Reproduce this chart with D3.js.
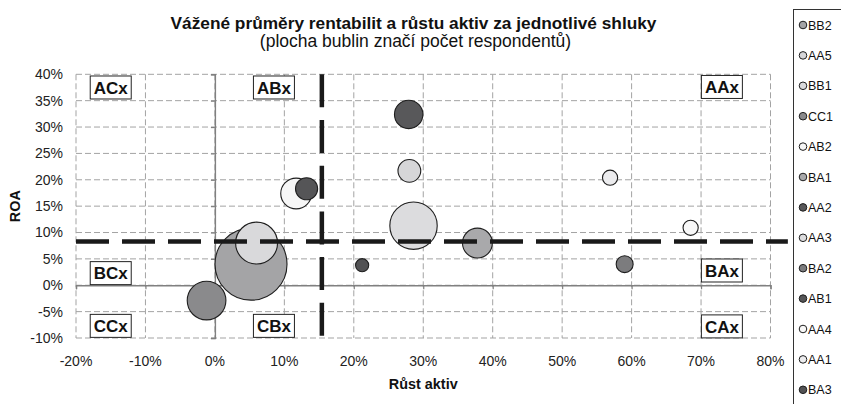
<!DOCTYPE html>
<html>
<head>
<meta charset="utf-8">
<script src="https://cdn.jsdelivr.net/npm/d3@7"></script>
<style>
    body { margin: 0; background: #fff; }
    svg { display: block; font-family: 'Liberation Sans', Arial, sans-serif; }
</style>
</head>
<body>
<svg id="chart" width="841" height="404"></svg>
<script>
// Clusters, in legend order (later ones are drawn on top)
const clusters = ['BB2', 'AA5', 'BB1', 'CC1', 'AB2', 'BA1', 'AA2', 'AA3', 'BA2', 'AB1', 'AA4', 'AA1', 'BA3'];
const growth   = [0.052, 0.280, 0.060, -0.012, 0.117, 0.378, 0.279, 0.286, 0.590, 0.132, 0.685, 0.569, 0.212];
const roa      = [0.040, 0.217, 0.080, -0.029, 0.174, 0.080, 0.324, 0.113, 0.040, 0.183, 0.109, 0.204, 0.038];
const counts   = [180, 18, 61, 52, 33, 31, 28, 78, 10, 17, 8, 8, 6];
const fills    = ['#a4a4a6', '#d6d6d8', '#d9d9db', '#8a8a8c', '#f6f6f6', '#a9a9ab', '#58585a',
                  '#dcdcde', '#7c7c7e', '#555557', '#f8f8f8', '#ececee', '#525254'];

// Tick values
const xTicks = [-0.2, -0.1, 0, 0.1, 0.2, 0.3, 0.4, 0.5, 0.6, 0.7, 0.8];
const yTicks = [-0.1, -0.05, 0, 0.05, 0.1, 0.15, 0.2, 0.25, 0.3, 0.35, 0.4];

// Cut-off lines dividing the clusters
const roaCut = 0.083;
const growthCut = 0.154;
const roaCutEnd = 0.825;

// Quadrant labels (centre in data units)
const quadNames = ['ACx', 'ABx', 'AAx', 'BCx', 'BAx', 'CCx', 'CBx', 'CAx'];
const quadX     = [-0.15, 0.085, 0.73, -0.15, 0.73, -0.15, 0.085, 0.73];
const quadY     = [0.375, 0.375, 0.376, 0.023, 0.028, -0.077, -0.077, -0.078];

const titleText = 'Vážené průměry rentabilit a růstu aktiv za jednotlivé shluky';
const subtitleText = '(plocha bublin značí počet respondentů)';

const data = clusters.map((name, i) => ({
    name, x: growth[i], y: roa[i], n: counts[i], fill: fills[i]
}));

const svg = d3.select('#chart');
const plot = { left: 76, right: 770.5, top: 74.3, bottom: 338 };

const xScale = d3.scaleLinear().domain([-0.2, 0.8]).range([plot.left, plot.right]);
const yScale = d3.scaleLinear().domain([-0.1, 0.4]).range([plot.bottom, plot.top]);
const rScale = d3.scaleSqrt().domain([0, 180]).range([0, 36]);
// plain hyphen for negatives, like the original
const pct = d => `${Math.round(d * 100)}%`;

// Dashed grid, borders included
const grid = svg.append('g')
    .attr('stroke', '#a3a3a3')
    .attr('stroke-width', 1)
    .attr('stroke-dasharray', '6,3');

grid.selectAll('line.v')
    .data(xTicks)
    .enter()
    .append('line')
    .attr('x1', d => xScale(d)).attr('x2', d => xScale(d))
    .attr('y1', plot.top).attr('y2', plot.bottom);

grid.selectAll('line.h')
    .data(yTicks)
    .enter()
    .append('line')
    .attr('x1', plot.left).attr('x2', plot.right)
    .attr('y1', d => yScale(d)).attr('y2', d => yScale(d));

// Axes through zero
const yAxis = svg.append('g')
    .attr('transform', `translate(${xScale(0)},0)`)
    .call(d3.axisLeft(yScale).tickValues(yTicks).tickSize(4).tickFormat(''));
const xAxis = svg.append('g')
    .attr('transform', `translate(0,${yScale(0)})`)
    .call(d3.axisBottom(xScale).tickValues(xTicks).tickSize(4).tickFormat(''));
[xAxis, yAxis].forEach(ax => {
    ax.select('.domain').attr('stroke', '#808080').attr('stroke-width', 1.4);
    ax.selectAll('.tick line').attr('stroke', '#808080').attr('stroke-width', 1.2);
});

// Tick labels at the plot edges
svg.append('g')
    .selectAll('text')
    .data(yTicks)
    .enter()
    .append('text')
    .attr('x', 63)
    .attr('y', d => yScale(d))
    .attr('dy', '0.35em')
    .attr('text-anchor', 'end')
    .attr('font-size', 14)
    .attr('fill', '#222')
    .text(d => pct(d));

svg.append('g')
    .selectAll('text')
    .data(xTicks)
    .enter()
    .append('text')
    .attr('x', d => xScale(d))
    .attr('y', 366)
    .attr('text-anchor', 'middle')
    .attr('font-size', 14)
    .attr('fill', '#222')
    .text(d => pct(d));

// Bubbles
svg.append('g')
    .selectAll('circle')
    .data(data)
    .enter()
    .append('circle')
    .attr('cx', d => xScale(d.x))
    .attr('cy', d => yScale(d.y))
    .attr('r', d => rScale(d.n))
    .attr('fill', d => d.fill)
    .attr('stroke', '#1e1e1e')
    .attr('stroke-width', 1.1);

// Thick dashed cut-off lines
svg.append('line')
    .attr('x1', xScale(-0.2)).attr('x2', xScale(roaCutEnd))
    .attr('y1', yScale(roaCut)).attr('y2', yScale(roaCut))
    .attr('stroke', '#1a1a1a')
    .attr('stroke-width', 4.5)
    .attr('stroke-dasharray', '33,13');

svg.append('line')
    .attr('x1', xScale(growthCut)).attr('x2', xScale(growthCut))
    .attr('y1', yScale(0.4)).attr('y2', yScale(-0.1))
    .attr('stroke', '#1a1a1a')
    .attr('stroke-width', 4.5)
    .attr('stroke-dasharray', '33,12.7');

// Quadrant labels in boxes
const quads = svg.append('g')
    .selectAll('g')
    .data(quadNames)
    .enter()
    .append('g')
    .attr('transform', (d, i) => `translate(${xScale(quadX[i])},${yScale(quadY[i])})`);

quads.append('rect')
    .attr('x', -20.5).attr('y', -11.5)
    .attr('width', 41).attr('height', 23)
    .attr('fill', '#fff')
    .attr('stroke', '#222')
    .attr('stroke-width', 1);

quads.append('text')
    .attr('text-anchor', 'middle')
    .attr('dy', '0.36em')
    .attr('font-size', 17)
    .attr('font-weight', 'bold')
    .attr('fill', '#111')
    .text(d => d);

// Titles
svg.append('text')
    .attr('x', 413.5).attr('y', 29)
    .attr('text-anchor', 'middle')
    .attr('font-size', 17.3)
    .attr('font-weight', 'bold')
    .attr('fill', '#111')
    .text(titleText);

svg.append('text')
    .attr('x', 415.5).attr('y', 47)
    .attr('text-anchor', 'middle')
    .attr('font-size', 17.5)
    .attr('fill', '#111')
    .text(subtitleText);

svg.append('text')
    .attr('x', (plot.left + plot.right) / 2).attr('y', 389)
    .attr('text-anchor', 'middle')
    .attr('font-size', 14.4)
    .attr('font-weight', 'bold')
    .attr('fill', '#111')
    .text('Růst aktiv');

svg.append('text')
    .attr('transform', `translate(20,${(plot.top + plot.bottom) / 2}) rotate(-90)`)
    .attr('text-anchor', 'middle')
    .attr('font-size', 14.4)
    .attr('font-weight', 'bold')
    .attr('fill', '#111')
    .text('ROA');

// Legend
const legend = svg.append('g').attr('transform', 'translate(793.5,9.5)');
legend.append('rect')
    .attr('width', 100).attr('height', 420)
    .attr('fill', '#fff')
    .attr('stroke', '#333')
    .attr('stroke-width', 1);

const rows = legend.selectAll('g.row')
    .data(data)
    .enter()
    .append('g')
    .attr('transform', (d, i) => `translate(0,${15.5 + i * 30.4})`);

rows.append('circle')
    .attr('cx', 9.5).attr('r', 3.8)
    .attr('fill', d => d.fill)
    .attr('stroke', '#1e1e1e')
    .attr('stroke-width', 1);

rows.append('text')
    .attr('x', 14.5)
    .attr('dy', '0.36em')
    .attr('font-size', 12.5)
    .attr('fill', '#111')
    .text(d => d.name);
</script>
</body>
</html>
